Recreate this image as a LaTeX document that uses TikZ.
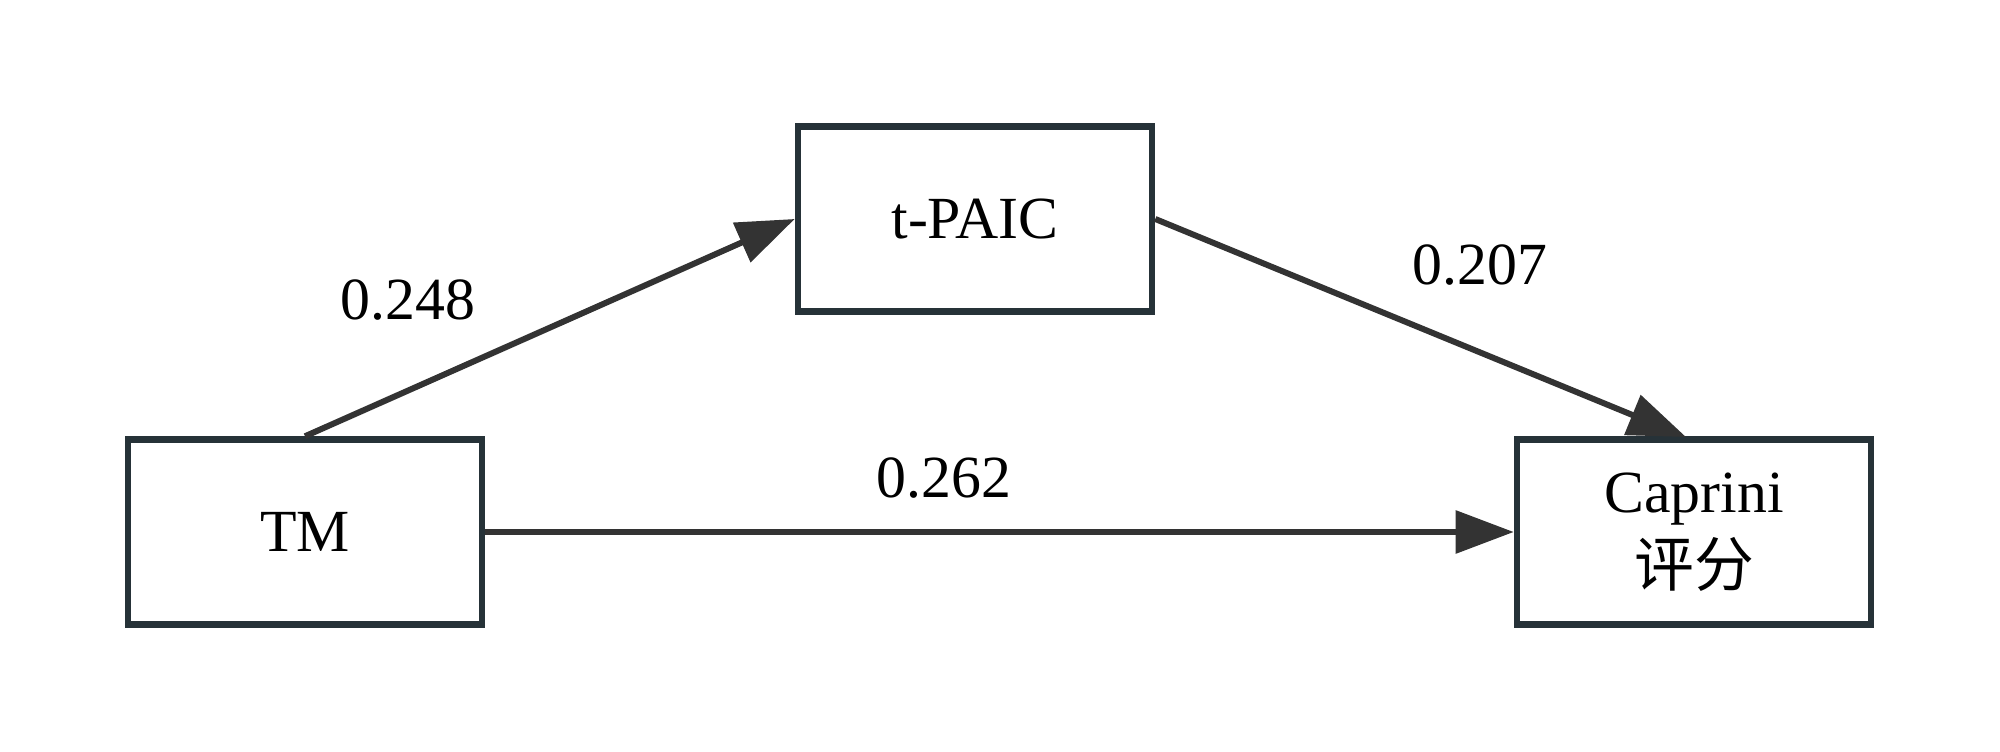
\documentclass[tikz,border=0pt]{standalone}
\usepackage{fontspec}
\setmainfont{Liberation Serif}
\newfontfamily\cjk{Noto Sans CJK SC}
\usetikzlibrary{arrows.meta}
\definecolor{boxcol}{HTML}{263238}
\definecolor{arrcol}{HTML}{333333}
\tikzset{
  varbox/.style={draw=boxcol, line width=1.8pt, fill=white, minimum width=3.54cm, minimum height=1.85cm, inner sep=0pt, align=center, font=\fontsize{17}{21}\selectfont},
  path/.style={draw=arrcol, line width=1.7pt, -{Triangle[length=0.58cm,width=0.42cm]}},
  coef/.style={font=\fontsize{17}{20}\selectfont, inner sep=0pt}
}
\begin{document}
\begin{tikzpicture}[x=0.01cm,y=-0.01cm]
\useasboundingbox (0,0) rectangle (2000,752);
\node[varbox] (tm) at (305,532) {TM};
\node[varbox] (tp) at (975,219) {t-PAIC};
\node[varbox] (cap) at (1694,532) {Caprini\\{\cjk 评分}};
\coordinate (captop) at (1686,437);
\draw[path] (tm.north) -- (tp.west);
\draw[path] (tp.east) -- (captop);
\draw[path] (tm.east) -- (cap.west);
\node[coef] (l1) at (408,300) {0.248};
\node[coef] (l2) at (1480,265) {0.207};
\node[coef] (l3) at (944,478) {0.262};
\end{tikzpicture}
\end{document}
